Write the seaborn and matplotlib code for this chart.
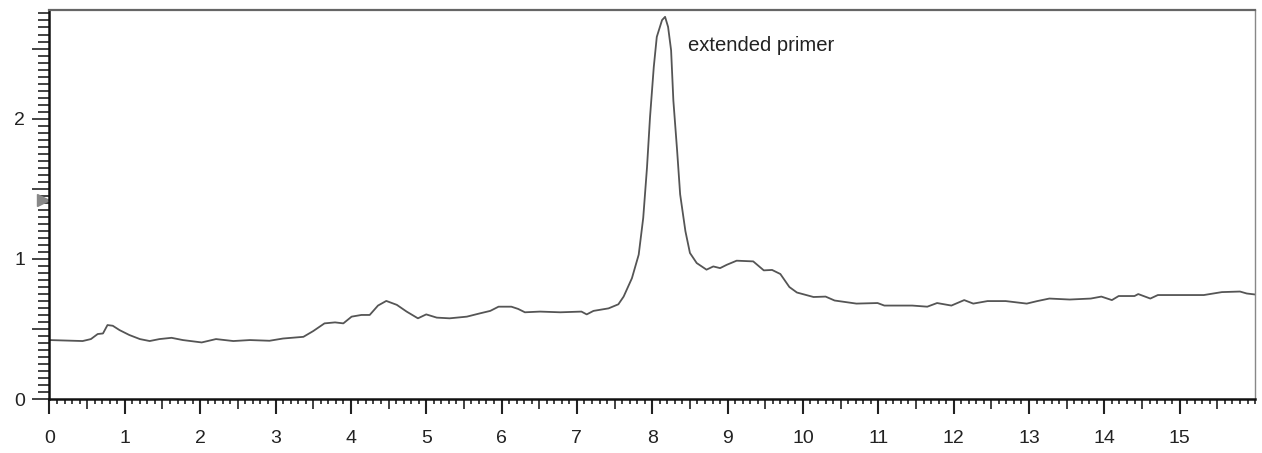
import numpy as np
import pandas as pd
import matplotlib
matplotlib.use("Agg")
import matplotlib.pyplot as plt
import seaborn as sns
from matplotlib.ticker import MultipleLocator, FixedLocator

# ---- data ----
time_min = [0.00, 0.44, 0.55, 0.64, 0.71, 0.77, 0.84, 0.93, 1.06, 1.20, 1.33, 1.46, 1.62, 1.77,
            2.02, 2.21, 2.44, 2.66, 2.92, 3.10, 3.37, 3.50, 3.65, 3.79, 3.90, 4.01, 4.14, 4.25,
            4.36, 4.47, 4.61, 4.74, 4.89, 5.00, 5.14, 5.31, 5.54, 5.71, 5.85, 5.96, 6.13, 6.22,
            6.31, 6.51, 6.78, 7.06, 7.13, 7.22, 7.42, 7.55, 7.62, 7.73, 7.82, 7.88, 7.93, 7.97,
            8.02, 8.06, 8.13, 8.17, 8.21, 8.25, 8.28, 8.33, 8.37, 8.44, 8.50, 8.59, 8.72, 8.81,
            8.90, 8.99, 9.12, 9.34, 9.48, 9.59, 9.70, 9.82, 9.92, 10.14, 10.30, 10.42, 10.71,
            10.99, 11.08, 11.45, 11.65, 11.78, 11.97, 12.14, 12.26, 12.45, 12.69, 12.97, 13.11,
            13.27, 13.54, 13.82, 13.96, 14.10, 14.19, 14.40, 14.45, 14.61, 14.71, 15.00, 15.32,
            15.56, 15.80, 15.89, 16.00]
signal = [0.421, 0.414, 0.428, 0.464, 0.468, 0.528, 0.523, 0.492, 0.457, 0.428, 0.414, 0.428,
          0.437, 0.421, 0.404, 0.428, 0.414, 0.421, 0.416, 0.432, 0.444, 0.485, 0.540, 0.547,
          0.540, 0.588, 0.600, 0.600, 0.667, 0.700, 0.672, 0.624, 0.576, 0.604, 0.581, 0.576,
          0.588, 0.611, 0.629, 0.659, 0.659, 0.643, 0.619, 0.624, 0.619, 0.624, 0.604, 0.629,
          0.647, 0.676, 0.731, 0.862, 1.030, 1.292, 1.651, 2.009, 2.368, 2.583, 2.703, 2.726,
          2.654, 2.487, 2.129, 1.771, 1.460, 1.197, 1.042, 0.970, 0.923, 0.946, 0.934, 0.958,
          0.987, 0.982, 0.918, 0.921, 0.892, 0.799, 0.760, 0.728, 0.731, 0.703, 0.681, 0.685,
          0.667, 0.667, 0.659, 0.685, 0.667, 0.706, 0.681, 0.699, 0.699, 0.681, 0.699, 0.717,
          0.710, 0.717, 0.731, 0.706, 0.735, 0.735, 0.749, 0.717, 0.742, 0.742, 0.742, 0.763,
          0.767, 0.753, 0.746]

x_ticks = list(range(0, 16))
y_ticks = [0, 0.5, 1, 1.5, 2, 2.5]
y_tick_labels = ["0", "", "1", "", "2", ""]
peak_label = "extended primer"
peak_label_pos = (8.48, 2.52)
marker_level = 1.42

df = pd.DataFrame({"time": time_min, "signal": signal})

sns.set_style("ticks")
plt.rcParams["font.family"] = ["Liberation Sans", "DejaVu Sans"]

fig = plt.figure(figsize=(12.62, 4.53), dpi=100)
ax = fig.add_axes([0.0392, 0.119, 0.9553, 0.859])

sns.lineplot(data=df, x="time", y="signal", ax=ax, sort=False, estimator=None,
             color="#555555", linewidth=1.3)

ax.set_xlim(0, 16)
ax.set_ylim(0, 2.775)
ax.set_xlabel("")
ax.set_ylabel("")

ax.xaxis.set_major_locator(FixedLocator(x_ticks))
ax.xaxis.set_minor_locator(MultipleLocator(0.1))
ax.yaxis.set_major_locator(FixedLocator(y_ticks))
ax.set_yticklabels(y_tick_labels)
ax.yaxis.set_minor_locator(MultipleLocator(0.05))

ax.tick_params(axis="x", which="major", direction="out", length=11, width=1.5,
               color="#222222", labelsize=14, labelcolor="#222222", pad=11)
ax.tick_params(axis="x", which="minor", direction="out", length=3.6, width=1.2, color="#222222")
ax.tick_params(axis="y", which="major", direction="out", length=12.5, width=1.2,
               color="#222222", labelsize=14, labelcolor="#222222", pad=5)
ax.tick_params(axis="y", which="minor", direction="out", length=8, width=1.2, color="#222222")

for side in ["left", "bottom"]:
    ax.spines[side].set_color("#111111")
    ax.spines[side].set_linewidth(1.8)
ax.spines["top"].set_color("#666666")
ax.spines["top"].set_linewidth(1.6)
ax.spines["right"].set_color("#888888")
ax.spines["right"].set_linewidth(1.0)
for side in ax.spines:
    ax.spines[side].set_visible(True)

ax.text(peak_label_pos[0], peak_label_pos[1], peak_label, fontsize=14.6,
        color="#222222", ha="left", va="center")

ax.plot([-0.08], [marker_level], marker=">", markersize=9, color="#888888",
        clip_on=False, linestyle="none")

fig.canvas.draw()
for loc, tick in zip(ax.xaxis.get_minorticklocs(), ax.xaxis.get_minor_ticks()):
    if abs((loc * 2) - round(loc * 2)) < 1e-6 and abs(loc - round(loc)) > 1e-6:
        tick.tick1line.set_markersize(7.5)

fig.savefig("out.png", dpi=100)
